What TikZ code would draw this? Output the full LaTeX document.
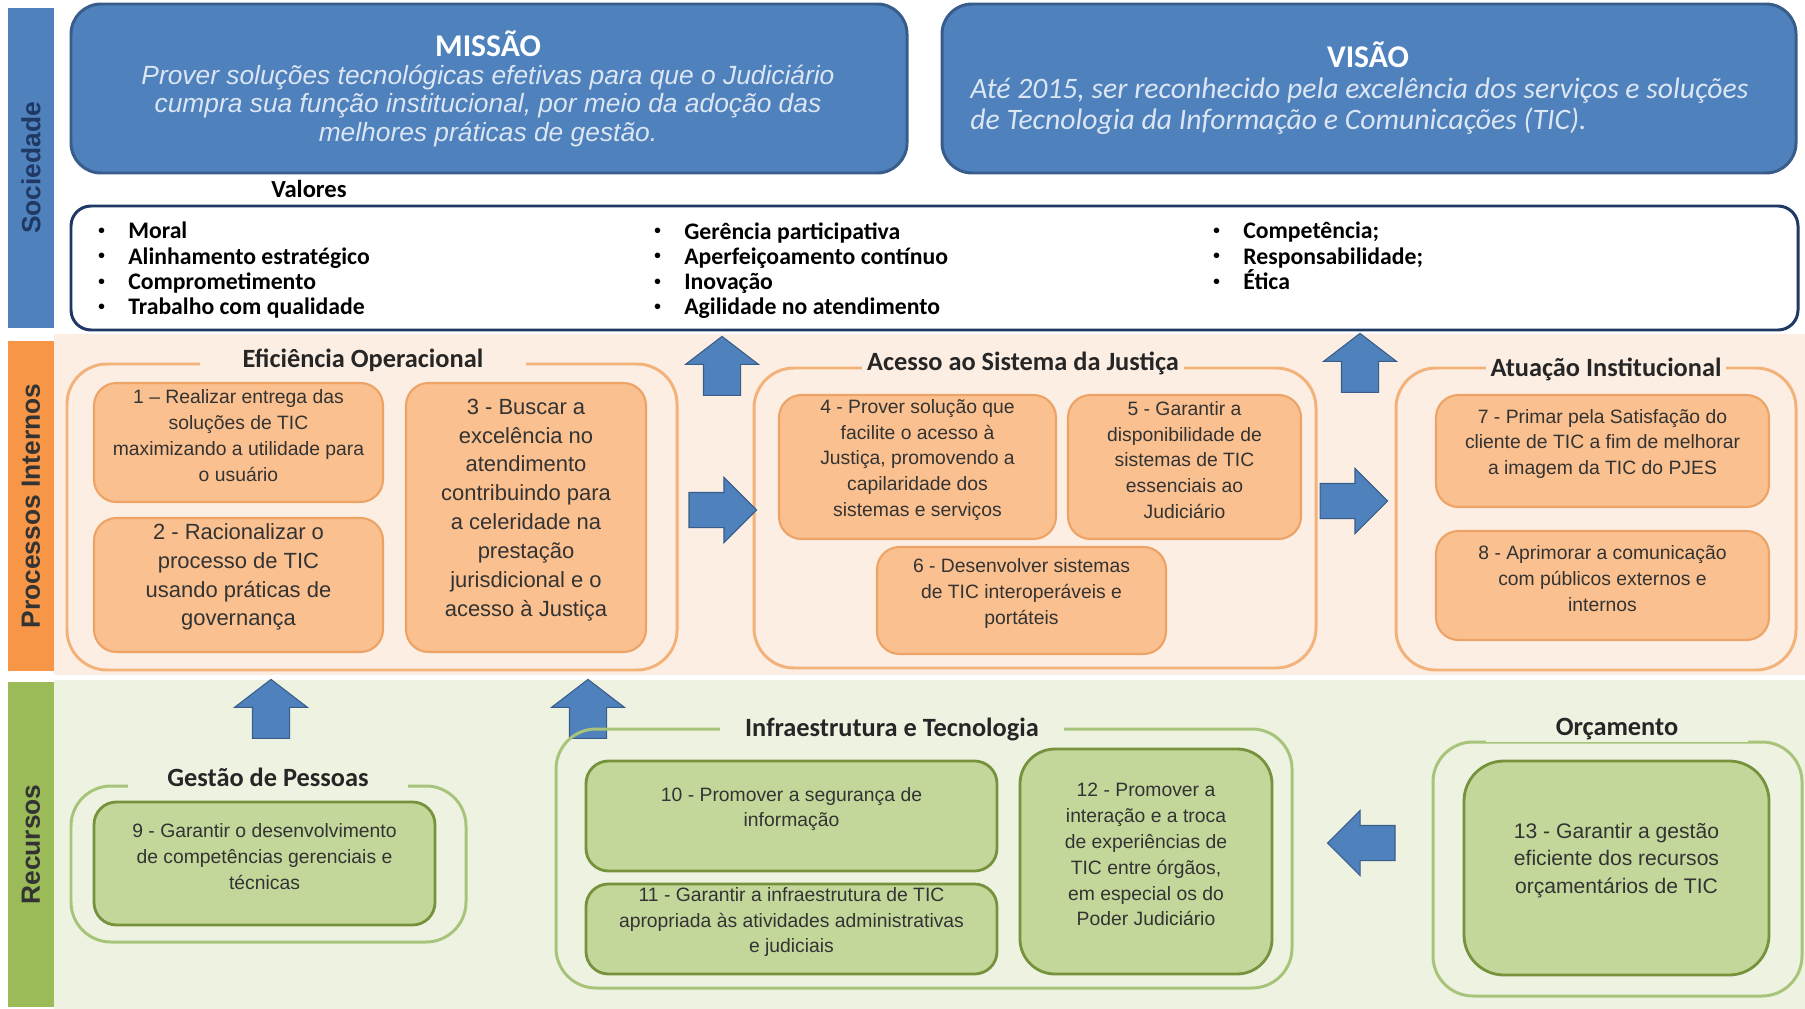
\documentclass[tikz,border=0pt]{standalone}
\usepackage{fontspec}
\setmainfont{Liberation Sans}
\newfontfamily\cali{Carlito}
\usetikzlibrary{fit,shapes.arrows}

\definecolor{socblue}{HTML}{4F81BD}
\definecolor{socline}{HTML}{385D8A}
\definecolor{navy}{HTML}{1F3864}
\definecolor{misstext}{HTML}{DCE6F2}
\definecolor{procor}{HTML}{F79646}
\definecolor{procbg}{HTML}{FCEEE3}
\definecolor{procgrp}{HTML}{F2B27A}
\definecolor{procfill}{HTML}{FAC08F}
\definecolor{procline}{HTML}{EDA366}
\definecolor{recgreen}{HTML}{9BBB59}
\definecolor{recbg}{HTML}{EEF2E1}
\definecolor{recgrp}{HTML}{A8C47A}
\definecolor{recfill}{HTML}{C4D79B}
\definecolor{recline}{HTML}{76923C}
\definecolor{boxtext}{HTML}{333333}

\newcommand{\vitem}[1]{\makebox[6.6mm][l]{\hspace{0.6mm}\raisebox{0.4ex}{\scalebox{0.55}{\textbullet}}}#1}

\tikzset{
  band/.style={inner sep=0pt},
  bandtext/.style={rotate=90, font=\fontsize{15}{18}\selectfont\bfseries},
  topbox/.style={draw=socline, line width=1.7pt, fill=socblue, rounded corners=6mm, inner sep=0pt},
  valbox/.style={draw=navy, line width=1.7pt, fill=white, rounded corners=4mm, inner sep=0pt},
  valtext/.style={anchor=north west, align=left, inner sep=0pt, font=\cali\fontsize{13.5}{14.4}\selectfont\bfseries},
  procgroup/.style={draw=procgrp, line width=1.7pt, rounded corners=8mm, inner sep=0pt},
  recgroup/.style={draw=recgrp, line width=1.7pt, rounded corners=8mm, inner sep=0pt},
  grouptitle/.style={font=\cali\fontsize{15}{18}\selectfont\bfseries, text=black!85, inner ysep=1pt},
  obox/.style={draw=procline, line width=1.2pt, fill=procfill, rounded corners=4.5mm, inner sep=0pt,
    align=center, text=boxtext, font=\fontsize{11}{14.7}\selectfont},
  gbox/.style={draw=recline, line width=1.6pt, fill=recfill, rounded corners=4.5mm, inner sep=0pt,
    align=center, text=boxtext, font=\fontsize{11}{14.7}\selectfont},
  bigtext/.style={font=\fontsize{12.5}{16.4}\selectfont},
  uparrow/.style={single arrow, draw=socline, fill=socblue, line width=0.6pt, rotate=90,
    minimum height=11.8mm, inner xsep=0pt, inner ysep=3.6mm, single arrow head extend=3.6mm,
    single arrow tip angle=105},
  sidearrow/.style={single arrow, draw=socline, fill=socblue, line width=0.6pt,
    minimum height=13.5mm, inner xsep=0pt, inner ysep=3.4mm, single arrow head extend=3mm,
    single arrow tip angle=90},
}

\begin{document}
\begin{tikzpicture}[x=0.2mm, y=-0.2mm]
  \useasboundingbox (0,0) rectangle (1805,1009);
  % fundos
  \fill[procbg] (54,334) rectangle (1805,675);
  \fill[recbg] (54,680) rectangle (1805,1009);

  % faixas laterais
  \node[band, fill=socblue, fit={(8,8) (54,328)}] (soc) {};
  \node[bandtext, text=navy] (soclbl) at (soc) {Sociedade};
  \node[band, fill=procor, fit={(8,341) (54,671)}] (proc) {};
  \node[bandtext, text=black!80] (proclbl) at (proc) {Processos Internos};
  \node[band, fill=recgreen, fit={(8,682) (54,1007)}] (rec) {};
  \node[bandtext, text=black!80] (reclbl) at (rec) {Recursos};

  % sociedade
  \node[topbox, fit={(71,4) (907,173)}] (missao) {};
  \node[font=\cali\fontsize{18}{20}\selectfont\bfseries, text=white] (missaotit) at (488,44) {MISSÃO};
  \node[align=center, text=misstext, font=\fontsize{15}{16}\selectfont\itshape] (missaotxt) at (488,106)
    {Prover soluções tecnológicas efetivas para que o Judiciário\\
     cumpra sua função institucional, por meio da adoção das\\
     melhores práticas de gestão.};
  \node[topbox, fit={(942,4) (1796,173)}] (visao) {};
  \node[font=\cali\fontsize{18}{20}\selectfont\bfseries, text=white] (visaotit) at (1368,55) {VISÃO};
  \node[anchor=west, inner sep=0pt, align=left, text=misstext, font=\cali\fontsize{16.9}{17.8}\selectfont\itshape] (visaotxt) at (970,106)
    {Até 2015, ser reconhecido pela excelência dos serviços e soluções\\
     de Tecnologia da Informação e Comunicações (TIC).};

  \node[font=\cali\fontsize{14}{16}\selectfont\bfseries] (valtit) at (309,189) {Valores};
  \node[valbox, fit={(71,206) (1798,330)}] (valores) {};
  \node[valtext] (val1) at (95,222) {\vitem{Moral}\\\vitem{Alinhamento estratégico}\\\vitem{Comprometimento}\\\vitem{Trabalho com qualidade}};
  \node[valtext] (val2) at (651,222) {\vitem{Gerência participativa}\\\vitem{Aperfeiçoamento contínuo}\\\vitem{Inovação}\\\vitem{Agilidade no atendimento}};
  \node[valtext] (val3) at (1210,222) {\vitem{Competência;}\\\vitem{Responsabilidade;}\\\vitem{Ética}};

  % processos internos
  \node[procgroup, fit={(67,364) (677,670)}] (efi) {};
  \node[grouptitle, fill=procbg, inner xsep=8.6mm] (efitit) at (363,360) {Eficiência Operacional};
  \node[obox, fit={(94,383) (383,502)}] (o1) {1 – Realizar entrega das\\soluções de TIC\\maximizando a utilidade para\\o usuário};
  \node[obox, bigtext, fit={(94,518) (383,652)}] (o2) {2 - Racionalizar o\\processo de TIC\\usando práticas de\\governança};
  \node[obox, bigtext, fit={(406,383) (646,652)}] (o3) {3 - Buscar a\\excelência no\\atendimento\\contribuindo para\\a celeridade na\\prestação\\jurisdicional e o\\acesso à Justiça};

  \node[procgroup, fit={(754,368) (1316,668)}] (ace) {};
  \node[grouptitle, fill=procbg, inner xsep=1mm] (acetit) at (1023,363) {Acesso ao Sistema da Justiça};
  \node[obox, fit={(779,395) (1056,539)}] (o4) {4 - Prover solução que\\facilite o acesso à\\Justiça, promovendo a\\capilaridade dos\\sistemas e serviços};
  \node[obox, fit={(1068,395) (1301,539)}] (o5) {5 - Garantir a\\disponibilidade de\\sistemas de TIC\\essenciais ao\\Judiciário};
  \node[obox, fit={(877,547) (1166,654)}] (o6) {6 - Desenvolver sistemas\\de TIC interoperáveis e\\portáteis};

  \node[procgroup, fit={(1396,368) (1796,670)}] (atu) {};
  \node[grouptitle, fill=procbg, inner xsep=1mm] (atutit) at (1606,369) {Atuação Institucional};
  \node[obox, fit={(1436,395) (1769,507)}] (o7) {7 - Primar pela Satisfação do\\cliente de TIC a fim de melhorar\\a imagem da TIC do PJES};
  \node[obox, fit={(1436,531) (1769,640)}] (o8) {8 - Aprimorar a comunicação\\com públicos externos e\\internos};

  \node[uparrow] (upA) at (722,373) {};
  \node[sidearrow] (rightA) at (714,510) {};
  \node[uparrow] (upB) at (1360,370) {};
  \node[sidearrow] (rightB) at (1345,501) {};

  % recursos
  \node[uparrow] (upC) at (271,716) {};
  \node[uparrow] (upD) at (588,716) {};

  \node[recgroup, fit={(71,786) (466,942)}] (ges) {};
  \node[grouptitle, fill=recbg, inner xsep=7.8mm] (gestit) at (268,777) {Gestão de Pessoas};
  \node[gbox, fit={(94,802) (435,925)}] (g9) {9 - Garantir o desenvolvimento\\de competências gerenciais e\\técnicas};

  \node[recgroup, fit={(556,729) (1292,988)}] (inf) {};
  \node[grouptitle, fill=recbg, inner xsep=5mm] (inftit) at (892,729) {Infraestrutura e Tecnologia};
  \node[gbox, fit={(586,761) (997,871)}] (g10) {10 - Promover a segurança de\\informação};
  \node[gbox, fit={(586,884) (997,974)}] (g11) {11 - Garantir a infraestrutura de TIC\\apropriada às atividades administrativas\\e judiciais};
  \node[gbox, rounded corners=7mm, fit={(1020,749) (1272,974)}] (g12) {12 - Promover a\\interação e a troca\\de experiências de\\TIC entre órgãos,\\em especial os do\\Poder Judiciário};

  \node[recgroup, fit={(1433,742) (1802,996)}] (orc) {};
  \node[grouptitle, fill=recbg, inner xsep=14mm] (orctit) at (1617,729) {Orçamento};
  \node[gbox, rounded corners=8mm, font=\fontsize{12}{15.7}\selectfont, fit={(1464,761) (1769,975)}] (g13) {13 - Garantir a gestão\\eficiente dos recursos\\orçamentários de TIC};

  \node[sidearrow, shape border rotate=180] (leftA) at (1370,843) {};
\end{tikzpicture}
\end{document}
